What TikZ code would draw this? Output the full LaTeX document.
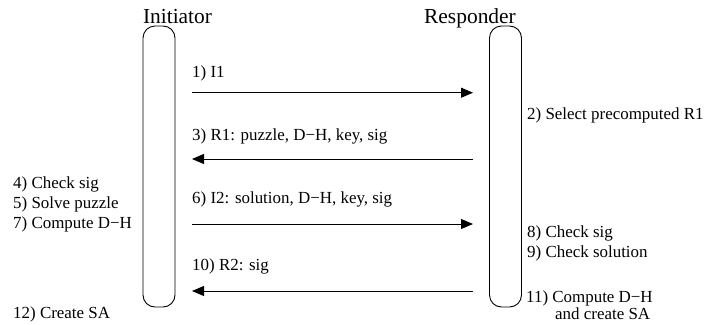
\documentclass[tikz,border=0pt]{standalone}
\usepackage{fontspec}
\setmainfont{Liberation Serif}
\usetikzlibrary{arrows.meta}
\tikzset{
  lifeline/.style={draw, line width=0.9bp, rounded corners=12bp, minimum width=32bp, minimum height=281bp, inner sep=0pt},
  head/.style={font=\fontsize{21.5}{23}\selectfont, inner sep=0pt, anchor=base},
  lbl/.style={font=\fontsize{17}{19}\selectfont, inner sep=0pt, anchor=base west},
  msg/.style={line width=0.9bp, -{Triangle[length=12bp,width=10bp]}}
}
\begin{document}
\begin{tikzpicture}[x=1bp,y=-1bp]
\useasboundingbox (0,0) rectangle (714,324);
\node[lifeline] (ini) at (159,166.5) {};
\node[lifeline] (res) at (505.5,166.5) {};
\node[head] (hini) at (177.5,23) {Initiator};
\node[head] (hres) at (470,23) {Responder};
% message end points
\coordinate (m1a) at (192,92.7);  \coordinate (m1b) at (473,92.7);
\coordinate (m3a) at (473,159);   \coordinate (m3b) at (192,159);
\coordinate (m6a) at (192,224);   \coordinate (m6b) at (473,224);
\coordinate (m10a) at (473,291);  \coordinate (m10b) at (192,291);
\draw[msg] (m1a) -- (m1b);
\draw[msg] (m3a) -- (m3b);
\draw[msg] (m6a) -- (m6b);
\draw[msg] (m10a) -- (m10b);
% message labels
\node[lbl] (l1) at (192,77) {1) I1};
\node[lbl] (l3) at (192,140) {3) R1: puzzle, D−H, key, sig};
\node[lbl] (l6) at (192,203) {6) I2: solution, D−H, key, sig};
\node[lbl] (l10) at (192,270) {10) R2: sig};
% initiator actions
\node[lbl] (a4) at (13,188) {4) Check sig};
\node[lbl] (a5) at (13,208) {5) Solve puzzle};
\node[lbl] (a7) at (13,228) {7) Compute D−H};
\node[lbl] (a12) at (13,318) {12) Create SA};
% responder actions
\node[lbl] (a2) at (527,119) {2) Select precomputed R1};
\node[lbl] (a8) at (527,237) {8) Check sig};
\node[lbl] (a9) at (527,257) {9) Check solution};
\node[lbl] (a11) at (526,302) {11) Compute D−H};
\node[lbl] (a11b) at (555,319) {and create SA};
\end{tikzpicture}
\end{document}
